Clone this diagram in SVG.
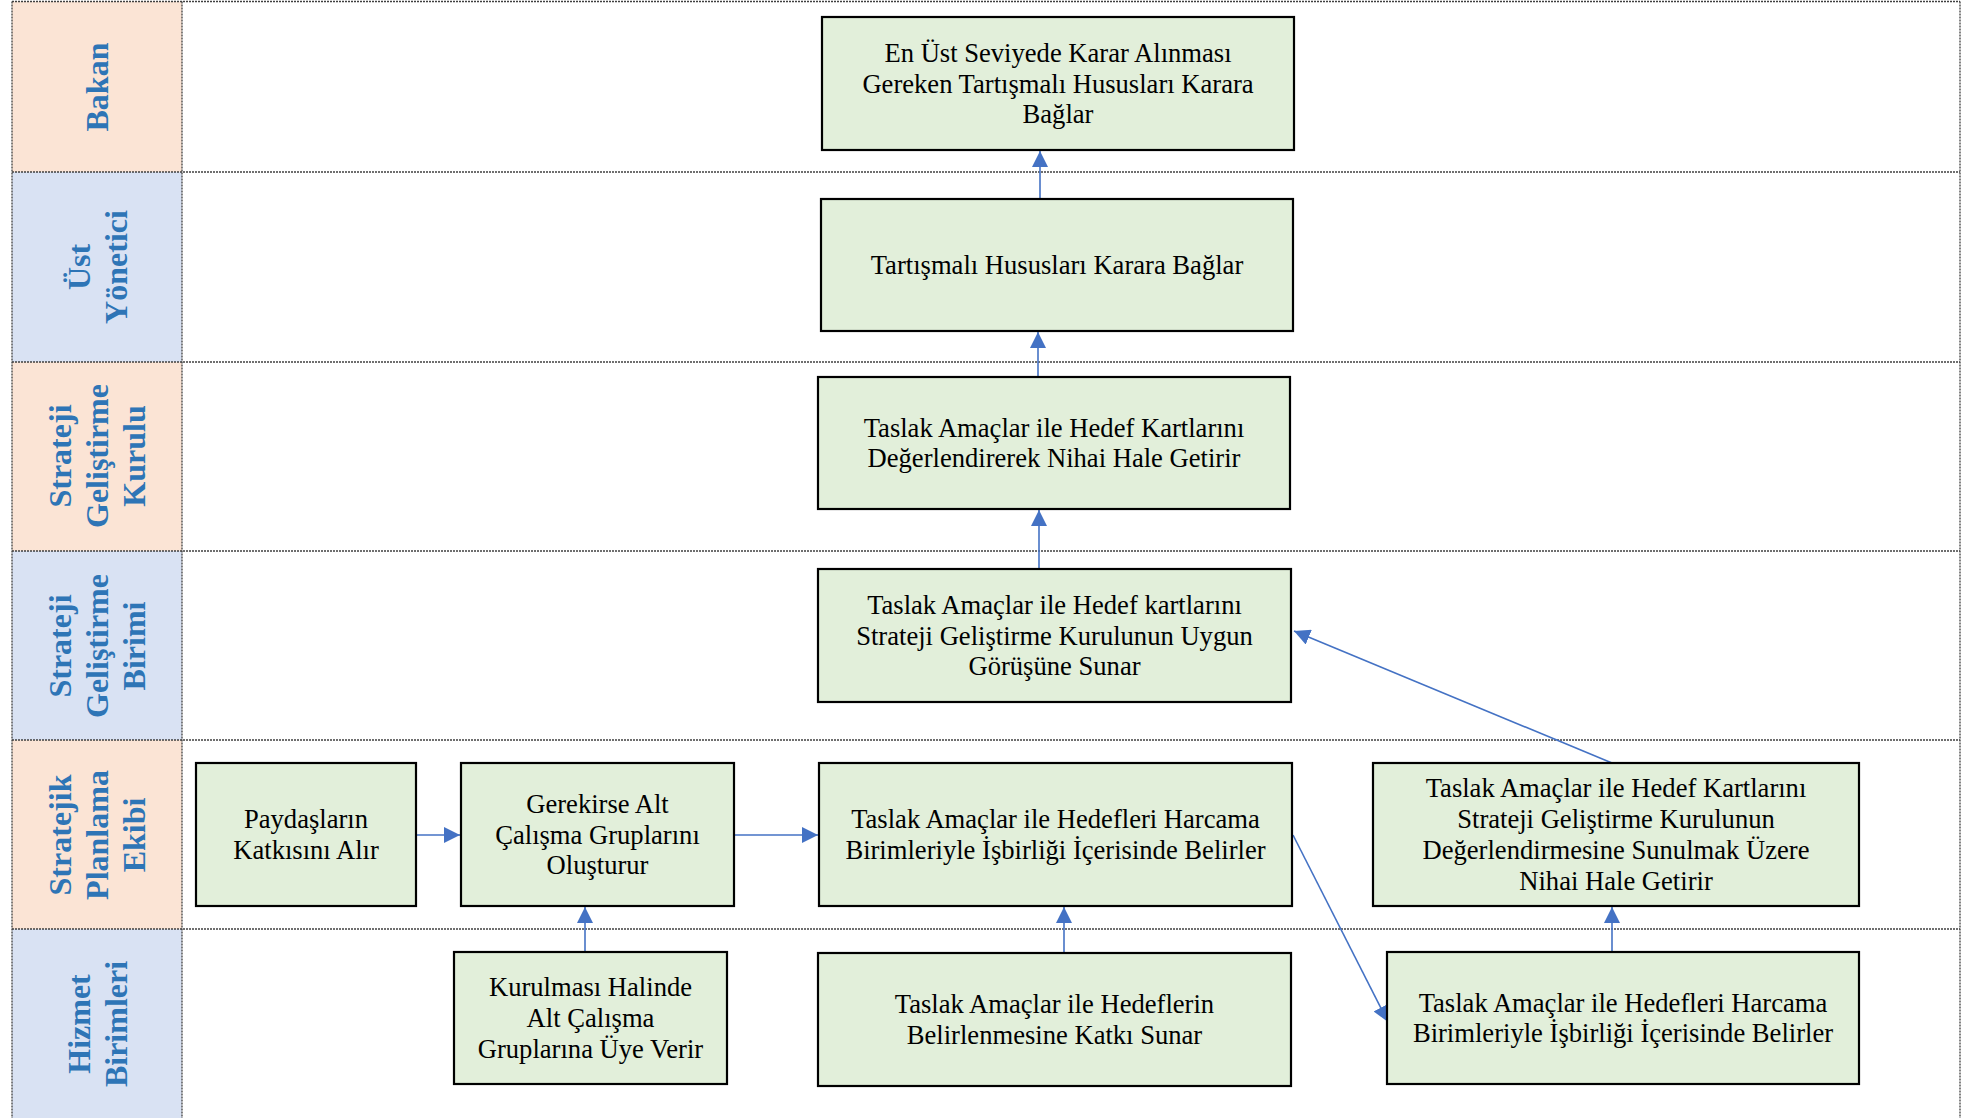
<svg xmlns="http://www.w3.org/2000/svg" width="1971" height="1118" viewBox="0 0 1971 1118">
<style>
.lane-a{fill:#FBE4D5}
.lane-b{fill:#D9E2F3}
.sep{stroke:#404040;stroke-width:1.3;stroke-dasharray:2 1;fill:none}
.lbl{font-family:"Liberation Serif","Times New Roman",serif;font-weight:bold;font-size:32px;fill:#2E75B6;text-anchor:middle}
.box{fill:#E2EFDA;stroke:#000;stroke-width:2.2}
.txt{font-family:"Liberation Serif","Times New Roman",serif;font-size:26.6px;fill:#000;text-anchor:middle}
.con{stroke:#4472C4;stroke-width:1.6;fill:none;marker-end:url(#arr)}
</style>
<defs>
<marker id="arr" markerUnits="userSpaceOnUse" markerWidth="16" markerHeight="16" viewBox="0 0 15 15" refX="15" refY="7.5" orient="auto">
<path d="M0,0 L15,7.5 L0,15 Z" fill="#4472C4"/>
</marker>
</defs>
<rect width="1971" height="1118" fill="#fff"/>
<g id="lanes">
<rect class="lane-a" x="12" y="1.5" width="170" height="170.5"/>
<rect class="lane-b" x="12" y="172" width="170" height="190"/>
<rect class="lane-a" x="12" y="362" width="170" height="189"/>
<rect class="lane-b" x="12" y="551" width="170" height="189"/>
<rect class="lane-a" x="12" y="740" width="170" height="189"/>
<rect class="lane-b" x="12" y="929" width="170" height="189"/>
<line class="sep" x1="12" y1="1.5" x2="1960" y2="1.5"/>
<line class="sep" x1="12" y1="172" x2="1960" y2="172"/>
<line class="sep" x1="12" y1="362" x2="1960" y2="362"/>
<line class="sep" x1="12" y1="551" x2="1960" y2="551"/>
<line class="sep" x1="12" y1="740" x2="1960" y2="740"/>
<line class="sep" x1="12" y1="929" x2="1960" y2="929"/>
<line class="sep" x1="12" y1="1.5" x2="12" y2="1118"/>
<line class="sep" x1="182" y1="1.5" x2="182" y2="1118"/>
<line class="sep" x1="1960" y1="1.5" x2="1960" y2="1118"/>
<text class="lbl" transform="translate(97,87) rotate(-90)"><tspan x="0" y="11">Bakan</tspan></text>
<text class="lbl" transform="translate(97,267) rotate(-90)"><tspan x="0" y="-7.5">Üst</tspan><tspan x="0" y="30">Yönetici</tspan></text>
<text class="lbl" transform="translate(97,456) rotate(-90)"><tspan x="0" y="-26">Strateji</tspan><tspan x="0" y="11">Geliştirme</tspan><tspan x="0" y="48">Kurulu</tspan></text>
<text class="lbl" transform="translate(97,646) rotate(-90)"><tspan x="0" y="-26">Strateji</tspan><tspan x="0" y="11">Geliştirme</tspan><tspan x="0" y="48">Birimi</tspan></text>
<text class="lbl" transform="translate(97,835) rotate(-90)"><tspan x="0" y="-26">Stratejik</tspan><tspan x="0" y="11">Planlama</tspan><tspan x="0" y="48">Ekibi</tspan></text>
<text class="lbl" transform="translate(97,1024) rotate(-90)"><tspan x="0" y="-7.5">Hizmet</tspan><tspan x="0" y="30">Birimleri</tspan></text>
</g>
<g id="connectors">
<line class="con" x1="1040" y1="199" x2="1040" y2="151"/>
<line class="con" x1="1038" y1="377" x2="1038" y2="332"/>
<line class="con" x1="1039" y1="569" x2="1039" y2="510"/>
<line class="con" x1="1612" y1="763" x2="1294" y2="631"/>
<line class="con" x1="416" y1="835" x2="460" y2="835"/>
<line class="con" x1="734" y1="835" x2="818" y2="835"/>
<line class="con" x1="585" y1="952" x2="585" y2="907"/>
<line class="con" x1="1064" y1="953" x2="1064" y2="907"/>
<line class="con" x1="1293" y1="835" x2="1388" y2="1022"/>
<line class="con" x1="1612" y1="952" x2="1612" y2="907"/>
</g>
<g id="n-bakan">
<rect class="box" x="822" y="17" width="472" height="133"/>
<text class="txt"><tspan x="1058" y="61.8">En Üst Seviyede Karar Alınması</tspan><tspan x="1058" y="92.5">Gereken Tartışmalı Hususları Karara</tspan><tspan x="1058" y="123.2">Bağlar</tspan></text>
</g>
<g id="n-ust">
<rect class="box" x="821" y="199" width="472" height="132"/>
<text class="txt"><tspan x="1057" y="274">Tartışmalı Hususları Karara Bağlar</tspan></text>
</g>
<g id="n-sgk">
<rect class="box" x="818" y="377" width="472" height="132"/>
<text class="txt"><tspan x="1054" y="436.6">Taslak Amaçlar ile Hedef Kartlarını</tspan><tspan x="1054" y="467.4">Değerlendirerek Nihai Hale Getirir</tspan></text>
</g>
<g id="n-sgb">
<rect class="box" x="818" y="569" width="473" height="133"/>
<text class="txt"><tspan x="1054.5" y="613.8">Taslak Amaçlar ile Hedef kartlarını</tspan><tspan x="1054.5" y="644.5">Strateji Geliştirme Kurulunun Uygun</tspan><tspan x="1054.5" y="675.2">Görüşüne Sunar</tspan></text>
</g>
<g id="n-paydas">
<rect class="box" x="196" y="763" width="220" height="143"/>
<text class="txt"><tspan x="306" y="828.2">Paydaşların</tspan><tspan x="306" y="858.9">Katkısını Alır</tspan></text>
</g>
<g id="n-gerekirse">
<rect class="box" x="461" y="763" width="273" height="143"/>
<text class="txt"><tspan x="597.5" y="812.8">Gerekirse Alt</tspan><tspan x="597.5" y="843.5">Çalışma Gruplarını</tspan><tspan x="597.5" y="874.2">Oluşturur</tspan></text>
</g>
<g id="n-spe-mid">
<rect class="box" x="819" y="763" width="473" height="143"/>
<text class="txt"><tspan x="1055.5" y="828.2">Taslak Amaçlar ile Hedefleri Harcama</tspan><tspan x="1055.5" y="858.9">Birimleriyle İşbirliği İçerisinde Belirler</tspan></text>
</g>
<g id="n-spe-right">
<rect class="box" x="1373" y="763" width="486" height="143"/>
<text class="txt"><tspan x="1616" y="797.4">Taslak Amaçlar ile Hedef Kartlarını</tspan><tspan x="1616" y="828.1">Strateji Geliştirme Kurulunun</tspan><tspan x="1616" y="858.8">Değerlendirmesine Sunulmak Üzere</tspan><tspan x="1616" y="889.5">Nihai Hale Getirir</tspan></text>
</g>
<g id="n-kurulmasi">
<rect class="box" x="454" y="952" width="273" height="132"/>
<text class="txt"><tspan x="590.5" y="996.3">Kurulması Halinde</tspan><tspan x="590.5" y="1027">Alt Çalışma</tspan><tspan x="590.5" y="1057.7">Gruplarına Üye Verir</tspan></text>
</g>
<g id="n-hiz-mid">
<rect class="box" x="818" y="953" width="473" height="133"/>
<text class="txt"><tspan x="1054.5" y="1013.2">Taslak Amaçlar ile Hedeflerin</tspan><tspan x="1054.5" y="1043.9">Belirlenmesine Katkı Sunar</tspan></text>
</g>
<g id="n-hiz-right">
<rect class="box" x="1387" y="952" width="472" height="132"/>
<text class="txt"><tspan x="1623" y="1011.7">Taslak Amaçlar ile Hedefleri Harcama</tspan><tspan x="1623" y="1042.4">Birimleriyle İşbirliği İçerisinde Belirler</tspan></text>
</g>
</svg>
